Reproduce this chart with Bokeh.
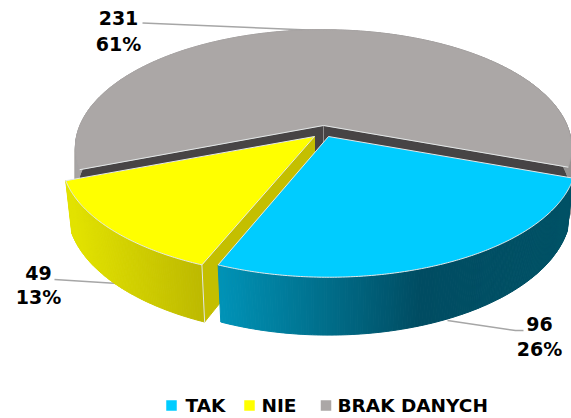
import math
from bokeh.plotting import figure
from bokeh.models import Range1d
from bokeh.core.properties import value
from bokeh.embed import file_html
from bokeh.resources import INLINE

categories = ["TAK", "NIE", "BRAK DANYCH"]
counts = [96, 49, 231]
percent_labels = ["26%", "13%", "61%"]

top_colors = ["#00CCFF", "#FFFF00", "#ABA7A6"]
face_colors = [None, "#C4BF00", "#474445"]
RIM = "#E4E8E8"

# projection of the tilted disc
RX, RY, K, D0 = 243.6, 114.0, 0.19, 49.6
START = -20.0
apexes = [(328, 136), (314, 136), (323, 125)]
x_scale = [1.0, 1.02, 1.0]
bottom_scale = [0.976, 0.976, 1.0]

total = sum(counts)
angles = []
a = START
for c in counts:
    b = a - 360.0 * c / total
    angles.append((a, b))
    a = b


def top(idx, deg):
    ax, ay = apexes[idx]
    t = math.radians(deg)
    X, Y = math.cos(t), math.sin(t)
    w = 1 + K * Y
    return ax + x_scale[idx] * RX * X / w, ay - RY * Y / w


def bottom(idx, deg):
    ax, ay = apexes[idx]
    F = bottom_scale[idx]
    t = math.radians(deg)
    X, Y = math.cos(t), math.sin(t)
    w = 1 + K * Y
    return ax + F * x_scale[idx] * RX * X / w, ay - F * RY * Y / w + D0 / w


def arc(a0, a1):
    n = max(2, int(abs(a1 - a0) / 0.5))
    return [a0 + (a1 - a0) * i / n for i in range(n + 1)]


def lerp_color(stops, x):
    if x <= stops[0][0]:
        c = stops[0][1]
    elif x >= stops[-1][0]:
        c = stops[-1][1]
    else:
        for (x0, c0), (x1, c1) in zip(stops, stops[1:]):
            if x0 <= x <= x1:
                u = (x - x0) / (x1 - x0)
                c = tuple(c0[i] + (c1[i] - c0[i]) * u for i in range(3))
                break
    return "#%02x%02x%02x" % tuple(int(round(v)) for v in c)


side_stops = [
    [(220, (0, 146, 182)), (330, (0, 108, 136)), (420, (0, 76, 98)), (571, (0, 82, 102))],
    [(72, (226, 226, 0)), (204, (188, 184, 0))],
    [(75, (168, 165, 164)), (571, (150, 147, 146))],
]

p = figure(width=571, height=418, output_backend="svg", toolbar_location=None,
           x_range=Range1d(0, 571), y_range=Range1d(418, 0),
           min_border=0, outline_line_color=None)
p.axis.visible = False
p.grid.visible = False
p.background_fill_color = "#FFFFFF"
p.border_fill_color = "#FFFFFF"


def draw_quad(xs, ys, color):
    p.patch(xs, ys, fill_color=color, line_color=color, line_width=1)


# leader lines sit under the pie
leaders = [([447, 515, 523], [320, 330, 330]),
           ([54, 117], [279, 283]),
           ([142, 320], [22.5, 30])]
for lx, ly in leaders:
    p.line(lx, ly, line_color="#A6A6A6", line_width=1.5)

for idx in [2, 1, 0]:
    ax, ay = apexes[idx]
    a0, a1 = angles[idx]
    # cut faces
    if idx == 2:
        for deg in (a0, a1):
            tx, ty = top(idx, deg)
            bx, by = bottom(idx, deg)
            draw_quad([ax, tx, bx, ax], [ay, ty, by, ay + D0], face_colors[idx])
        p.line([ax, ax], [ay, ay + D0], line_color="#8E8C8C", line_width=1)
    if idx == 1:
        tx, ty = top(idx, a0)
        bx, by = bottom(idx, a0)
        draw_quad([ax, tx, bx, ax], [ay, ty, by, ay + D0], face_colors[idx])
    # curved side, shaded strip by strip
    degs = arc(a0, a1)
    for d0, d1 in zip(degs, degs[1:]):
        x0, y0 = top(idx, d0)
        x1, y1 = top(idx, d1)
        x2, y2 = bottom(idx, d1)
        x3, y3 = bottom(idx, d0)
        draw_quad([x0, x1, x2, x3], [y0, y1, y2, y3], lerp_color(side_stops[idx], (x0 + x1) / 2))
    if idx == 1:
        tx, ty = top(idx, a0)
        bx, by = bottom(idx, a0)
        p.line([tx, bx], [ty, by], line_color=RIM, line_width=1)
    # top face
    pts = [top(idx, d) for d in degs]
    xs = [ax] + [q[0] for q in pts]
    ys = [ay] + [q[1] for q in pts]
    if idx == 2:
        p.patch(xs, ys, fill_color=top_colors[idx], line_color=top_colors[idx], line_width=0.5)
        p.line([pts[0][0], ax, pts[-1][0]], [pts[0][1], ay, pts[-1][1]], line_color=RIM, line_width=1)
    else:
        p.patch(xs, ys, fill_color=top_colors[idx], line_color=RIM, line_width=1)

FONT = "DejaVu Sans"
label_x = [539, 38, 118]
label_y = [(323, 348), (272, 296), (17, 43)]
tx, ty, tt = [], [], []
for i in range(3):
    tx += [label_x[i], label_x[i]]
    ty += [label_y[i][0], label_y[i][1]]
    tt += [str(counts[i]), percent_labels[i]]
p.text(x=tx, y=ty, text=tt, text_font=value(FONT), text_font_style="bold",
       text_font_size="19px", text_color="#000000", text_align="center", text_baseline="middle")

leg_sq = [171, 249, 325.5]
leg_tx = [185, 261, 337]
LEG_Y = 405
p.rect(x=leg_sq, y=[LEG_Y] * 3, width=10.5, height=10.5, fill_color=top_colors, line_color=None)
p.text(x=leg_tx, y=[LEG_Y] * 3, text=categories, text_font=value(FONT), text_font_style="bold",
       text_font_size="18.5px", text_color="#000000", text_align="left", text_baseline="middle")

open("out.html", "w").write(file_html(p, INLINE))
